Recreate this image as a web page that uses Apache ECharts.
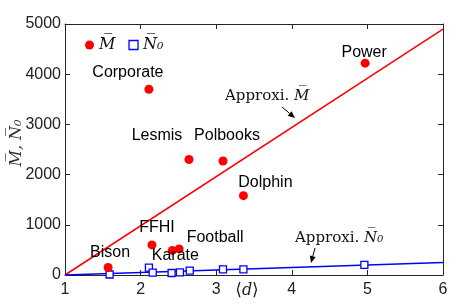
<!DOCTYPE html>
<html><head><meta charset="utf-8">
<script src="https://cdn.jsdelivr.net/npm/echarts@6/dist/echarts.min.js"></script>
<style>html,body{margin:0;padding:0;background:#fff}#c{width:463px;height:306px}</style>
</head><body><div id="c"></div>
<script>
// ---- data ----
const networks = ['Bison','FFHI','Karate','Football','Lesmis','Corporate','Polbooks','Dolphin','Power'];
const degree   = [1.57, 2.15, 2.42, 2.51, 2.64, 2.11, 3.09, 3.36, 4.97];
const meanM    = [150, 600, 490, 520, 2300, 3700, 2270, 1580, 4220];
const n0Degree = [1.59, 2.11, 2.16, 2.41, 2.52, 2.65, 3.09, 3.36, 4.96];
const meanN0   = [10, 146, 46, 40, 53, 86, 113, 113, 200];
const approxM_x = [1, 6];
const approxM_y = [0, 4900];
const approxN_x = [1, 6];
const approxN_y = [0, 250];
const xTicks = [1, 2, 3, 4, 5, 6];
const yTicks = [0, 1000, 2000, 3000, 4000, 5000];

// ---- label placement (style only) ----
const labelOffset = {
  Bison:[2,-15], FFHI:[5,-17], Karate:[3,5], Football:[36,-11], Lesmis:[-32,-24],
  Corporate:[-21,-17], Polbooks:[4,-25], Dolphin:[22,-13], Power:[-1,-11]
};

const AX = '#262626';
const sans = 'Liberation Sans, Arial, sans-serif';
const serif = 'DejaVu Serif, serif';

const chart = echarts.init(document.getElementById('c'), null, {renderer:'canvas'});
const axX = (pos, show) => ({
  type:'value', min:xTicks[0], max:xTicks[xTicks.length-1], interval:1, position:pos,
  axisLine:{show:true, onZero:false, lineStyle:{color:AX, width:1}},
  axisTick:{show:true, inside:true, length:5, lineStyle:{color:AX}},
  axisLabel:{show:show, color:'#222', fontFamily:sans, fontSize:16, margin:7, formatter:v=>String(v)},
  splitLine:{show:false}
});
const axY = (pos, show) => ({
  type:'value', min:yTicks[0], max:yTicks[yTicks.length-1], interval:1000, position:pos,
  axisLine:{show:true, onZero:false, lineStyle:{color:AX, width:1}},
  axisTick:{show:true, inside:true, length:5, lineStyle:{color:AX}},
  axisLabel:{show:show, color:'#222', fontFamily:sans, fontSize:16, margin:4, formatter:v=>String(v)},
  splitLine:{show:false}
});

chart.setOption({
  animation:false,
  grid:{left:65, right:20, top:24, bottom:31},
  xAxis:[axX('bottom', true), axX('top', false)],
  yAxis:[axY('left', true), axY('right', false)],
  legend:{
    left:80, top:32, itemWidth:9, itemHeight:9, itemGap:13,
    data:[{name:'M̅', icon:'circle'}, {name:'N̅₀', icon:'rect', itemStyle:{color:'#fff', borderColor:'#0000ff', borderWidth:1.3}}],
    textStyle:{fontFamily:serif, fontStyle:'italic', fontSize:16, color:'#111'}
  },
  series:[
    {
      name:'approxM', type:'line', showSymbol:false, silent:true,
      data: approxM_x.map((x,i)=>[x, approxM_y[i]]),
      lineStyle:{color:'#ff0000', width:1.5}, z:2
    },
    {
      name:'approxN', type:'line', showSymbol:false, silent:true,
      data: approxN_x.map((x,i)=>[x, approxN_y[i]]),
      lineStyle:{color:'#0000ff', width:1.5}, z:2
    },
    {
      name:'M̅', type:'scatter', symbol:'circle', symbolSize:9,
      itemStyle:{color:'#ff0000', opacity:1}, z:4,
      data: networks.map((n,i)=>({
        name:n, value:[degree[i], meanM[i]],
        label:{show:true, position:'inside', offset:labelOffset[n], formatter:n,
               color:'#000', opacity:1, textBorderWidth:0, fontFamily:sans, fontSize:16, align:'center', verticalAlign:'middle'}
      }))
    },
    {
      name:'N̅₀', type:'scatter', symbol:'rect', symbolSize:7,
      itemStyle:{color:'#ffffff', borderColor:'#0000ff', borderWidth:1.3, opacity:1}, z:3,
      data: n0Degree.map((x,i)=>[x, meanN0[i]])
    }
  ]
});

function arrow(x1,y1,x2,y2){
  const a = Math.atan2(y2-y1, x2-x1), L=7, W=3;
  const bx = x2 - L*Math.cos(a), by = y2 - L*Math.sin(a);
  const px = -Math.sin(a)*W, py = Math.cos(a)*W;
  return [
    {type:'line', shape:{x1:x1,y1:y1,x2:bx,y2:by}, style:{stroke:'#000', lineWidth:1}},
    {type:'polygon', shape:{points:[[x2,y2],[bx+px,by+py],[bx-px,by-py]]}, style:{fill:'#000'}}
  ];
}
chart.setOption({
  graphic:[
    {type:'text', x:17, y:143, rotation:Math.PI/2, style:{text:'M̅, N̅₀', align:'center', verticalAlign:'middle', font:'italic 16px DejaVu Serif', fill:'#333'}},
    {type:'text', x:247, y:291, style:{text:'⟨{d|d}⟩', align:'center', verticalAlign:'middle', font:'17px DejaVu Serif', fill:'#222', rich:{d:{fontFamily:serif, fontStyle:'italic', fontSize:16}}}},
    {type:'text', x:225, y:96, style:{text:'Approxi. {m|M̅}', align:'left', verticalAlign:'middle', font:'15px DejaVu Serif', fill:'#111', rich:{m:{fontFamily:serif, fontStyle:'italic', fontSize:15}}}},
    {type:'text', x:295, y:238, style:{text:'Approxi. {m|N̅₀}', align:'left', verticalAlign:'middle', font:'15px DejaVu Serif', fill:'#111', rich:{m:{fontFamily:serif, fontStyle:'italic', fontSize:15}}}},
    ...arrow(282,107,295,118),
    ...arrow(315,248,311,263)
  ]
});
</script></body></html>
